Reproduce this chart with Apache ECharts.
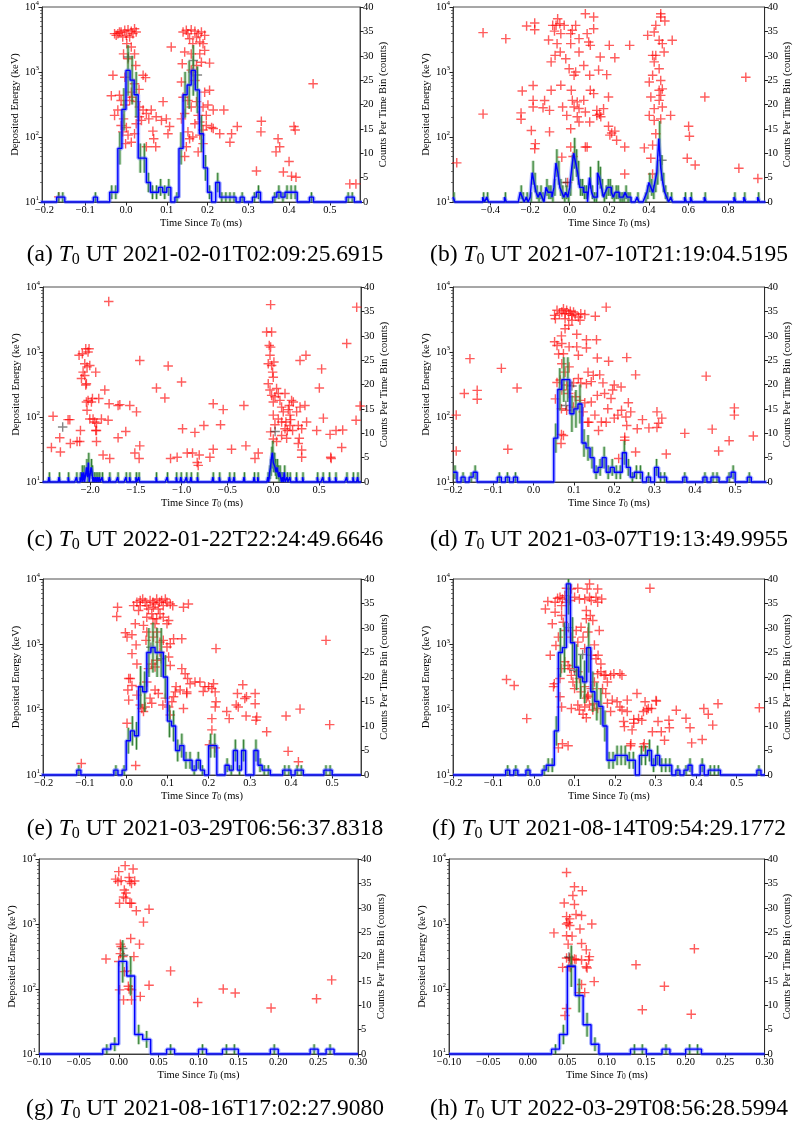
<!DOCTYPE html>
<html>
<head>
<meta charset="utf-8">
<script src="https://cdn.jsdelivr.net/npm/echarts@6.0.0/dist/echarts.min.js"></script>
<style>
  html, body { margin: 0; padding: 0; background: #fff; }
  #charts { width: 794px; height: 1126px; }
</style>
</head>
<body>
<div id="charts"></div>
<script>
// ---- data ----
const BIN = 0.01;          // histogram bin width (ms)
const COUNT_MAX = 40;

const letters = ['a', 'b', 'c', 'd', 'e', 'f', 'g', 'h'];
const utStamps = [
  '2021-02-01T02:09:25.6915', '2021-07-10T21:19:04.5195',
  '2022-01-22T22:24:49.6646', '2021-03-07T19:13:49.9955',
  '2021-03-29T06:56:37.8318', '2021-08-14T09:54:29.1772',
  '2021-08-16T17:02:27.9080', '2022-03-29T08:56:28.5994'
];

// (a)
const xRangeA = [-0.206, 0.574];
const xTicksA = [-0.2, -0.1, 0, 0.1, 0.2, 0.3, 0.4, 0.5];
const redA = [
  [-0.028, 3890], [-0.020, 3890], [-0.012, 4120], [-0.003, 4380], [0.005, 4450], [0.013, 4250],
  [0.017, 3890], [0.025, 4120], [0.001, 3660], [0.009, 3450], [0.021, 4640], [-0.008, 3450],
  [-0.016, 4120], [-0.024, 3660], [0.002, 2730], [-0.006, 1900], [0.005, 1600], [0.013, 2430],
  [0.021, 1900], [0.024, 1260], [-0.003, 830], [-0.032, 890], [0.042, 890], [0.048, 820],
  [0.032, 540], [0.021, 660], [0.013, 490], [-0.036, 430], [-0.016, 440], [-0.012, 365],
  [-0.003, 310], [0.009, 365], [0.015, 410], [0.025, 350], [0.033, 290], [0.042, 260],
  [0.050, 230], [0.062, 260], [0.074, 205], [0.091, 350], [0.099, 190], [0.087, 180],
  [0.107, 145], [0.103, 112], [0.066, 123], [0.068, 94], [0.073, 71], [0.021, 112],
  [0.001, 140], [-0.012, 150], [-0.008, 120], [0.005, 107], [-0.006, 190], [0.033, 205],
  [-0.001, 79], [0.013, 83], [0.050, 71], [-0.028, 215], [-0.020, 260], [0.025, 160],
  [0.038, 180], [0.056, 190],
  [0.140, 4120], [0.148, 4380], [0.152, 3890], [0.160, 4450], [0.169, 4250], [0.177, 3890],
  [0.185, 4120], [0.193, 3660], [0.156, 3250], [0.173, 3450], [0.181, 2900], [0.164, 2730],
  [0.189, 2730], [0.111, 2430], [0.144, 2030], [0.160, 1900], [0.181, 1900], [0.193, 2150],
  [0.205, 1370], [0.185, 1410], [0.138, 1340], [0.173, 1260], [0.160, 1070], [0.136, 700],
  [0.164, 1000], [0.169, 740], [0.205, 525], [0.193, 490], [0.140, 410], [0.152, 365],
  [0.160, 290], [0.173, 350], [0.189, 290], [0.201, 310], [0.214, 260], [0.240, 260],
  [0.144, 230], [0.177, 215], [0.197, 215], [0.136, 190], [0.169, 160], [0.181, 170],
  [0.197, 150], [0.210, 140], [0.152, 120], [0.164, 100], [0.181, 107], [0.148, 71],
  [0.189, 79], [0.156, 94], [0.144, 50], [0.177, 59], [0.189, 128], [0.214, 135],
  [0.230, 112], [0.255, 83], [0.259, 112], [0.273, 145], [0.332, 175], [0.331, 120],
  [0.320, 30], [0.373, 94], [0.377, 71], [0.368, 59], [0.400, 42], [0.386, 29],
  [0.412, 145], [0.415, 128], [0.406, 25], [0.417, 24], [0.459, 660], [0.549, 19],
  [0.564, 19], [-0.165, 12]
];
const blackA = [[0.006, 1700], [0.165, 1500], [0.175, 900]];
const histA = [
  [-0.17, 1], [-0.16, 1], [-0.08, 1], [-0.04, 2], [-0.03, 2], [-0.02, 11], [-0.01, 19],
  [0.00, 27], [0.01, 25], [0.02, 22], [0.03, 9], [0.04, 9], [0.05, 4], [0.06, 2], [0.07, 2],
  [0.08, 3], [0.09, 2], [0.10, 3], [0.12, 1], [0.13, 11], [0.14, 22], [0.15, 24], [0.16, 27],
  [0.17, 23], [0.18, 14], [0.19, 7], [0.20, 2], [0.22, 4], [0.23, 1], [0.24, 1], [0.25, 1],
  [0.26, 1], [0.28, 1], [0.31, 1], [0.32, 2], [0.36, 1], [0.37, 2], [0.38, 1], [0.39, 2],
  [0.40, 2], [0.41, 2], [0.45, 1], [0.54, 1], [0.55, 1]
];

// (b)
const xRangeB = [-0.59, 0.985];
const xTicksB = [-0.4, -0.2, 0, 0.2, 0.4, 0.6, 0.8];
const redB = [
  [-0.571, 40], [-0.438, 4030], [-0.323, 3260], [-0.438, 225], [-0.240, 510], [-0.218, 5100],
  [-0.177, 5680], [-0.177, 4480], [-0.185, 620], [-0.185, 366], [-0.185, 290], [-0.246, 235],
  [-0.246, 188], [-0.194, 126], [-0.177, 66], [-0.174, 79], [-0.107, 3100], [-0.127, 365],
  [-0.135, 282], [-0.102, 257], [-0.094, 525], [-0.102, 120], [-0.069, 5220], [-0.086, 5220],
  [-0.061, 6610], [-0.050, 5540], [-0.077, 4260], [-0.045, 3890], [-0.028, 5220], [-0.064, 2730],
  [-0.074, 1800], [-0.048, 2030], [-0.094, 1430], [-0.020, 1600], [-0.003, 1120], [0.022, 890],
  [0.030, 1000], [-0.045, 624], [0.008, 525], [0.013, 366], [0.038, 347], [0.022, 290],
  [-0.036, 290], [-0.015, 215], [0.038, 205], [0.047, 170], [0.005, 134], [0.047, 275],
  [0.005, 3890], [0.013, 4380], [0.030, 5220], [0.047, 3260], [0.005, 2730], [0.047, 2030],
  [0.079, 7890], [0.121, 7010], [0.121, 4640], [0.088, 3890], [0.096, 2900], [0.104, 2570],
  [0.071, 1260], [0.101, 890], [0.146, 1070], [0.154, 1700], [0.187, 910], [0.200, 2570],
  [0.228, 1660], [0.303, 2570], [0.104, 525], [0.121, 465], [0.137, 257], [0.196, 412],
  [0.171, 273], [0.071, 366], [0.079, 243], [0.101, 170], [0.137, 215], [0.157, 205],
  [0.151, 224], [0.196, 146], [0.203, 107], [0.212, 115], [0.228, 123], [0.237, 89],
  [0.278, 70], [0.278, 27], [0.079, 70], [0.088, 70], [0.005, 70], [-0.040, 49],
  [0.017, 50], [-0.011, 20],
  [0.460, 7890], [0.460, 7010], [0.481, 6100], [0.435, 5220], [0.427, 4120], [0.394, 3660],
  [0.452, 3070], [0.468, 2730], [0.518, 3070], [0.419, 1800], [0.427, 1430], [0.452, 1120],
  [0.477, 2030], [0.402, 700], [0.419, 890], [0.460, 740], [0.468, 550], [0.460, 437],
  [0.452, 366], [0.468, 290], [0.410, 412], [0.427, 273], [0.402, 215], [0.427, 180],
  [0.460, 190], [0.510, 215], [0.377, 68], [0.419, 75], [0.435, 112], [0.410, 47],
  [0.419, 27], [0.435, 1800], [0.452, 525],
  [0.601, 146], [0.605, 103], [0.594, 47], [0.634, 37], [0.683, 412], [0.855, 33],
  [0.890, 830], [0.951, 23]
];
const blackB = [[0.466, 44], [-0.02, 20]];
const histB = [
  [-0.59, 1], [-0.44, 1], [-0.42, 1], [-0.33, 1], [-0.25, 2], [-0.24, 1], [-0.22, 1],
  [-0.20, 1], [-0.19, 6], [-0.18, 4], [-0.17, 2], [-0.16, 1], [-0.15, 2], [-0.14, 1],
  [-0.12, 3], [-0.11, 2], [-0.10, 2], [-0.09, 1], [-0.08, 3], [-0.07, 8], [-0.06, 6],
  [-0.05, 3], [-0.04, 2], [-0.03, 1], [-0.02, 2], [-0.01, 1], [0.00, 3], [0.01, 7],
  [0.02, 10], [0.03, 8], [0.04, 6], [0.05, 3], [0.06, 3], [0.07, 2], [0.08, 2], [0.10, 5],
  [0.11, 2], [0.12, 1], [0.13, 1], [0.14, 6], [0.15, 5], [0.16, 3], [0.17, 1], [0.18, 2],
  [0.19, 3], [0.20, 3], [0.21, 2], [0.22, 1], [0.23, 2], [0.24, 2], [0.25, 1], [0.26, 1],
  [0.27, 1], [0.28, 2], [0.29, 1], [0.30, 1], [0.34, 1], [0.38, 1], [0.39, 2], [0.40, 4],
  [0.41, 3], [0.42, 2], [0.43, 4], [0.44, 6], [0.45, 13], [0.46, 7], [0.47, 4], [0.48, 2],
  [0.49, 1], [0.51, 1], [0.58, 1], [0.61, 1], [0.68, 1], [0.83, 1], [0.88, 1], [0.95, 1]
];

// (c)
const xRangeC = [-2.515, 0.958];
const xTicksC = [-2.0, -1.5, -1.0, -0.5, 0, 0.5];
const redC = [
  [-1.797, 6000], [-2.423, 34], [-2.405, 103], [-2.332, 48], [-2.325, 29], [-2.241, 91],
  [-2.222, 91], [-2.216, 39], [-2.143, 42], [-2.114, 42], [-2.121, 890], [-2.085, 940],
  [-2.095, 390], [-2.077, 490], [-2.059, 660], [-2.048, 1120], [-2.041, 325], [-2.034, 590],
  [-2.023, 1000], [-2.012, 1120], [-2.004, 620], [-2.048, 310], [-2.059, 435], [-2.106, 62],
  [-2.041, 170], [-2.034, 127], [-2.023, 180], [-2.004, 93], [-1.986, 170], [-1.975, 192],
  [-1.968, 93], [-1.950, 84], [-1.939, 62], [-1.931, 62], [-1.931, 42], [-1.931, 80],
  [-1.939, 490], [-1.906, 192], [-1.840, 260], [-1.877, 93], [-1.859, 26], [-1.804, 89],
  [-1.793, 160], [-1.786, 23], [-1.695, 48], [-1.695, 150], [-1.676, 155], [-1.611, 60],
  [-1.567, 150], [-1.512, 28], [-1.494, 120], [-1.458, 36], [-1.465, 23], [-1.458, 740],
  [-1.276, 280], [-1.184, 196], [-1.148, 610], [-1.122, 23], [-1.050, 24], [-1.002, 345],
  [-0.991, 66], [-0.940, 28], [-0.882, 28], [-0.856, 58], [-0.831, 20], [-0.820, 18],
  [-0.809, 26], [-0.758, 74], [-0.692, 24], [-0.656, 32], [-0.656, 160], [-0.576, 76],
  [-0.547, 130], [-0.456, 32], [-0.321, 150], [-0.299, 36], [-0.200, 23], [-0.164, 28],
  [-0.073, 2030], [-0.029, 5350], [-0.044, 1260], [-0.036, 890], [-0.055, 660], [-0.018, 2030],
  [-0.029, 1190], [-0.018, 620], [-0.007, 490], [0.000, 410], [0.007, 700], [-0.055, 325],
  [-0.036, 260], [-0.018, 215], [0.000, 170], [0.018, 205], [0.036, 275], [0.055, 230],
  [0.073, 180], [0.091, 142], [0.109, 120], [0.128, 230], [0.091, 84], [0.000, 107],
  [0.055, 93], [0.018, 76], [-0.029, 59], [0.000, 46], [0.036, 42], [0.091, 52],
  [0.128, 66], [0.146, 47], [0.164, 130], [0.182, 107], [0.190, 91], [0.219, 170],
  [0.255, 120], [0.273, 74], [0.292, 142], [0.310, 66], [0.346, 150], [0.364, 84],
  [0.200, 180], [0.175, 150], [0.138, 84], [0.153, 62], [0.182, 74], [0.284, 47],
  [0.310, 31], [0.273, 39], [0.310, 24], [0.211, 62], [0.292, 740], [0.357, 890],
  [0.474, 62], [0.503, 280], [0.528, 550], [0.547, 96], [0.620, 54], [0.627, 24],
  [0.632, 23], [0.685, 62], [0.747, 34], [0.758, 63], [0.802, 1350], [0.911, 4900],
  [0.904, 89], [0.948, 148]
];
const blackC = [[-2.3, 70], [0.02, 60]];
const histC = [
  [-2.45, 1], [-2.34, 1], [-2.24, 1], [-2.15, 1], [-2.11, 1], [-2.09, 2], [-2.07, 2],
  [-2.04, 3], [-2.03, 1], [-2.02, 4], [-1.99, 3], [-1.98, 2], [-1.96, 1], [-1.94, 1],
  [-1.92, 1], [-1.90, 1], [-1.87, 1], [-1.79, 1], [-1.70, 1], [-1.61, 1], [-1.57, 1],
  [-1.50, 1], [-1.47, 1], [-1.28, 1], [-1.16, 1], [-1.06, 1], [-1.01, 1], [-0.95, 1],
  [-0.90, 1], [-0.83, 1], [-0.66, 1], [-0.59, 1], [-0.48, 1], [-0.43, 1], [-0.32, 1],
  [-0.21, 1], [-0.17, 1], [-0.06, 1], [-0.04, 2], [-0.03, 3], [-0.02, 5], [-0.01, 6],
  [0.00, 4], [0.01, 4], [0.02, 3], [0.03, 2], [0.04, 3], [0.05, 2], [0.06, 1], [0.07, 2],
  [0.08, 1], [0.10, 1], [0.12, 2], [0.15, 1], [0.18, 1], [0.25, 1], [0.32, 1], [0.48, 1],
  [0.54, 1], [0.61, 1], [0.68, 1], [0.80, 1], [0.87, 1], [0.92, 1]
];

// (d)
const xRangeD = [-0.2, 0.573];
const xTicksD = [-0.2, -0.1, 0, 0.1, 0.2, 0.3, 0.4, 0.5];
const redD = [
  [-0.192, 107], [-0.192, 30], [-0.172, 230], [-0.158, 790], [-0.140, 257], [-0.140, 187],
  [-0.080, 560], [-0.064, 32], [-0.041, 280],
  [0.052, 3660], [0.058, 4380], [0.064, 3890], [0.070, 4120], [0.074, 4640], [0.078, 3890],
  [0.082, 4380], [0.087, 3890], [0.091, 4250], [0.095, 3660], [0.099, 4120], [0.103, 3780],
  [0.111, 3450], [0.117, 3890], [0.127, 3780], [0.153, 3550], [0.054, 3250], [0.078, 3250],
  [0.095, 3080], [0.115, 3080], [0.180, 4900], [0.087, 2580], [0.078, 2280],
  [0.069, 1770], [0.107, 1870], [0.131, 1540], [0.156, 1540], [0.052, 1440], [0.058, 1260],
  [0.070, 1350], [0.088, 1200], [0.107, 1200], [0.131, 1150], [0.062, 930], [0.074, 940],
  [0.111, 890], [0.158, 810], [0.186, 720], [0.231, 820], [0.070, 660], [0.088, 590],
  [0.078, 490], [0.135, 490], [0.148, 437], [0.164, 445], [0.253, 445], [0.428, 425],
  [0.058, 340], [0.066, 370], [0.082, 310], [0.099, 335], [0.111, 390], [0.117, 335],
  [0.131, 325], [0.143, 350], [0.172, 335], [0.176, 230], [0.200, 310], [0.217, 290],
  [0.196, 260], [0.054, 190], [0.070, 260], [0.087, 230], [0.103, 205], [0.115, 180],
  [0.127, 165], [0.143, 170], [0.158, 215], [0.192, 192], [0.235, 166], [0.069, 134],
  [0.082, 127], [0.099, 142], [0.123, 120], [0.134, 83], [0.137, 83], [0.152, 107],
  [0.161, 62], [0.168, 84], [0.180, 83], [0.184, 134], [0.200, 96], [0.209, 107],
  [0.218, 127], [0.229, 100], [0.241, 120], [0.231, 74], [0.257, 66], [0.270, 91],
  [0.286, 68], [0.306, 69], [0.310, 80], [0.318, 96], [0.306, 120], [0.226, 49],
  [0.226, 44], [0.253, 29], [0.211, 23], [0.329, 27], [0.375, 56], [0.443, 65],
  [0.459, 30], [0.485, 43], [0.498, 138], [0.498, 107], [0.545, 51], [0.069, 54],
  [0.068, 39], [0.074, 52]
];
const blackD = [[0.080, 150], [0.095, 300]];
const histD = [
  [-0.20, 2], [-0.18, 1], [-0.16, 1], [-0.15, 2], [-0.09, 1], [-0.07, 1], [-0.05, 1],
  [0.05, 9], [0.06, 19], [0.07, 21], [0.08, 21], [0.09, 14], [0.10, 15], [0.11, 16],
  [0.12, 8], [0.13, 7], [0.14, 5], [0.15, 2], [0.16, 3], [0.17, 5], [0.18, 2], [0.19, 3],
  [0.20, 2], [0.21, 2], [0.22, 6], [0.23, 3], [0.24, 1], [0.25, 2], [0.26, 2], [0.28, 1],
  [0.30, 3], [0.31, 1], [0.32, 1], [0.37, 1], [0.42, 1], [0.44, 1], [0.45, 1], [0.48, 1],
  [0.49, 2], [0.53, 1]
];

// (e)
const xRangeE = [-0.202, 0.57];
const xTicksE = [-0.2, -0.1, 0, 0.1, 0.2, 0.3, 0.4, 0.5];
const redE = [
  [-0.109, 15], [0.023, 14], [0.002, 62], [-0.021, 3700], [-0.023, 2660], [-0.002, 1500],
  [0.002, 1290], [0.014, 1400], [0.022, 2060], [0.024, 980], [0.014, 720], [0.026, 500],
  [0.042, 1950], [0.006, 300], [0.010, 300], [0.014, 235], [0.004, 200], [0.006, 140],
  [0.038, 104], [0.042, 94], [0.050, 265], [0.034, 225], [0.054, 425], [0.062, 500],
  [0.070, 450], [0.074, 570], [0.048, 1150], [0.050, 1540], [0.062, 2930], [0.065, 2460],
  [0.066, 1290], [0.070, 2060], [0.074, 1540], [0.082, 1080], [0.090, 1150], [0.082, 760],
  [0.099, 910], [0.107, 1020], [0.103, 640], [0.115, 1220], [0.107, 475], [0.135, 1220],
  [0.135, 425],
  [0.018, 3910], [0.026, 4400], [0.034, 4680], [0.040, 4950], [0.046, 4400], [0.050, 3910],
  [0.058, 4680], [0.065, 4400], [0.070, 4150], [0.074, 4950], [0.081, 4400], [0.086, 4680],
  [0.090, 3910], [0.095, 4950], [0.099, 4400], [0.107, 4150], [0.113, 3910], [0.139, 3700],
  [0.151, 4150], [0.054, 3480], [0.078, 3480], [0.066, 3700], [0.034, 3910], [0.082, 2930],
  [0.090, 2600], [0.103, 2320], [0.099, 2060], [0.074, 2460], [0.030, 3290], [0.050, 2600],
  [0.143, 355], [0.149, 300], [0.155, 250], [0.167, 265], [0.179, 265], [0.187, 190],
  [0.191, 225], [0.200, 225], [0.208, 210], [0.212, 250], [0.216, 187], [0.218, 132],
  [0.216, 110], [0.147, 187], [0.131, 200], [0.121, 225], [0.115, 158], [0.111, 132],
  [0.103, 110], [0.107, 83], [0.095, 150], [0.119, 187], [0.139, 104], [0.070, 200],
  [0.078, 177], [0.089, 118], [0.062, 125], [0.058, 150], [0.046, 110], [0.034, 118],
  [0.026, 167], [0.147, 177], [0.218, 860], [0.208, 73], [0.208, 49], [0.202, 29],
  [0.216, 26], [0.244, 94], [0.250, 73], [0.270, 177], [0.272, 110], [0.267, 118],
  [0.283, 240], [0.288, 148], [0.292, 158], [0.291, 80], [0.313, 177], [0.313, 123],
  [0.317, 77], [0.315, 69], [0.341, 46], [0.388, 80], [0.393, 23], [0.418, 16],
  [0.422, 102], [0.485, 1150], [0.494, 59]
];
const blackE = [[0.060, 900], [0.085, 600]];
const histE = [
  [-0.12, 1], [-0.03, 1], [-0.01, 1], [0.00, 7], [0.01, 9], [0.02, 8], [0.03, 18], [0.04, 17],
  [0.05, 25], [0.06, 26], [0.07, 25], [0.08, 25], [0.09, 20], [0.10, 11], [0.11, 10],
  [0.12, 5], [0.13, 6], [0.14, 3], [0.15, 3], [0.16, 1], [0.17, 3], [0.18, 1], [0.20, 6],
  [0.21, 6], [0.24, 2], [0.25, 1], [0.26, 5], [0.27, 1], [0.28, 5], [0.31, 5], [0.32, 2],
  [0.33, 1], [0.34, 1], [0.38, 1], [0.39, 1], [0.41, 1], [0.42, 1], [0.48, 1], [0.49, 1]
];

// (f)
const xRangeF = [-0.2, 0.569];
const xTicksF = [-0.2, -0.1, 0, 0.1, 0.2, 0.3, 0.4, 0.5];
const redF = [
  [-0.068, 290], [-0.049, 235], [-0.018, 73], [0.060, 26], [0.070, 30], [0.084, 28],
  [0.286, 7200],
  [0.028, 3480], [0.034, 4520], [0.052, 4400], [0.058, 5080], [0.064, 5250], [0.070, 4950],
  [0.076, 5570], [0.080, 7200], [0.092, 7050], [0.108, 7200], [0.131, 7050], [0.137, 8400],
  [0.157, 7050], [0.153, 5250], [0.137, 5250], [0.125, 4950], [0.112, 4950], [0.100, 5250],
  [0.088, 4680], [0.080, 4400], [0.068, 3910], [0.157, 4400], [0.141, 4680], [0.167, 4950],
  [0.129, 3290], [0.139, 2760], [0.145, 2320], [0.129, 2460], [0.052, 3100], [0.045, 2060],
  [0.068, 2760], [0.072, 2180], [0.060, 1290], [0.054, 960], [0.040, 680], [0.076, 1630],
  [0.092, 1290], [0.104, 1630], [0.108, 1080], [0.116, 1830], [0.121, 1290], [0.133, 1540],
  [0.149, 980], [0.161, 1630], [0.158, 680], [0.153, 600], [0.165, 500], [0.177, 340],
  [0.141, 680], [0.125, 860],
  [0.048, 225], [0.050, 250], [0.064, 300], [0.068, 425], [0.076, 540], [0.084, 475],
  [0.088, 425], [0.092, 335], [0.096, 265], [0.100, 210], [0.108, 380], [0.112, 300],
  [0.116, 187], [0.125, 225], [0.129, 150], [0.133, 167], [0.141, 210], [0.149, 265],
  [0.157, 355], [0.165, 380], [0.173, 335], [0.181, 265], [0.189, 335], [0.197, 355],
  [0.212, 355], [0.217, 335], [0.177, 177], [0.169, 210], [0.149, 123], [0.157, 104],
  [0.145, 99], [0.133, 158], [0.137, 118], [0.125, 110], [0.112, 99], [0.092, 104],
  [0.108, 118], [0.121, 85], [0.129, 75], [0.064, 158], [0.068, 110], [0.181, 125],
  [0.193, 140], [0.205, 132], [0.230, 140], [0.217, 99], [0.212, 110], [0.189, 94],
  [0.230, 94], [0.246, 62], [0.254, 177], [0.242, 49], [0.223, 55], [0.221, 66],
  [0.246, 71], [0.258, 73], [0.266, 69], [0.274, 132], [0.278, 99], [0.270, 94],
  [0.282, 104], [0.290, 104], [0.301, 138], [0.302, 135], [0.292, 46], [0.272, 30],
  [0.270, 27], [0.239, 30], [0.238, 28], [0.306, 66], [0.314, 46], [0.322, 34],
  [0.333, 69], [0.334, 53], [0.351, 98], [0.375, 74], [0.385, 53], [0.389, 31],
  [0.415, 35], [0.419, 104], [0.430, 85], [0.441, 58], [0.454, 123], [0.556, 107]
];
const blackF = [[0.085, 1800], [0.100, 400], [0.120, 700]];
const histF = [
  [-0.07, 1], [-0.05, 1], [-0.02, 1], [0.02, 1], [0.03, 2], [0.04, 2], [0.05, 9], [0.06, 25],
  [0.07, 26], [0.08, 39], [0.09, 27], [0.10, 22], [0.11, 20], [0.12, 19], [0.13, 26],
  [0.14, 17], [0.15, 15], [0.16, 14], [0.17, 10], [0.18, 3], [0.19, 3], [0.20, 4], [0.21, 4],
  [0.22, 4], [0.23, 3], [0.24, 3], [0.26, 4], [0.27, 4], [0.28, 5], [0.29, 2], [0.30, 4],
  [0.31, 2], [0.32, 2], [0.33, 2], [0.35, 1], [0.37, 1], [0.38, 2], [0.41, 2], [0.43, 1],
  [0.44, 1], [0.45, 1], [0.55, 1]
];

// (g)
const xRangeG = [-0.1, 0.3];
const xTicksG = [-0.1, -0.05, 0, 0.05, 0.1, 0.15, 0.2, 0.25, 0.3];
const redG = [
  [-0.016, 290], [0.008, 7900], [0.018, 7000], [-0.004, 4900], [0.000, 6400], [-0.001, 4500],
  [0.003, 4650], [0.013, 5200], [0.014, 4500], [0.016, 4200], [0.020, 4600], [0.007, 3340],
  [0.009, 3000], [0.006, 2600], [0.009, 2500], [0.001, 2080], [0.014, 2080], [0.016, 2080],
  [0.022, 1600], [0.038, 1690], [0.031, 1070], [0.015, 600], [0.026, 490], [0.002, 490],
  [0.003, 450], [0.002, 350], [0.005, 315], [0.019, 315], [0.000, 265], [0.007, 185],
  [0.010, 190], [0.012, 110], [0.013, 100], [0.016, 97], [0.001, 97], [0.006, 68],
  [0.016, 68], [0.027, 77], [0.038, 114], [0.065, 190], [0.099, 62], [0.131, 100],
  [0.146, 87], [0.191, 51], [0.248, 71], [0.267, 138]
];
const blackG = [[0.005, 420], [0.006, 330]];
const histG = [
  [-0.02, 1], [-0.01, 2], [0.00, 19], [0.01, 16], [0.02, 4], [0.03, 3], [0.06, 1], [0.10, 1],
  [0.13, 1], [0.14, 1], [0.19, 1], [0.24, 1], [0.26, 1]
];

// (h)
const xRangeH = [-0.1, 0.3];
const xTicksH = [-0.1, -0.05, 0, 0.05, 0.1, 0.15, 0.2, 0.25, 0.3];
const redH = [
  [0.049, 6200], [0.059, 3750], [0.069, 3250], [0.057, 2750], [0.046, 2100], [0.059, 2000],
  [0.061, 1400], [0.068, 1350], [0.049, 1300], [0.053, 1200], [0.051, 1050], [0.049, 1000],
  [0.053, 950], [0.081, 1000], [0.066, 840], [0.033, 730], [0.049, 660], [0.056, 650],
  [0.068, 500], [0.051, 490], [0.074, 400], [0.078, 315], [0.077, 280], [0.049, 300],
  [0.053, 300], [0.059, 290], [0.056, 280], [0.061, 285], [0.068, 280], [0.075, 210],
  [0.074, 220], [0.044, 215], [0.054, 215], [0.052, 220], [0.084, 130], [0.068, 117],
  [0.072, 88], [0.065, 88], [0.049, 50], [0.047, 39], [0.137, 236], [0.173, 110],
  [0.145, 48], [0.211, 415], [0.207, 41]
];
const blackH = [[0.052, 310], [0.055, 230]];
const histH = [
  [0.03, 1], [0.04, 4], [0.05, 18], [0.06, 12], [0.07, 6], [0.08, 2], [0.13, 1], [0.14, 1],
  [0.17, 1], [0.20, 1], [0.21, 1]
];

// ---- layout (pixels) ----
const boxes = [
  { left: 42, top: 7, width: 318, height: 195 },
  { left: 453, top: 7, width: 318, height: 195 },
  { left: 43, top: 287, width: 318, height: 195 },
  { left: 453, top: 287, width: 316, height: 195 },
  { left: 43, top: 579, width: 318, height: 196 },
  { left: 453, top: 579, width: 317, height: 196 },
  { left: 39, top: 859, width: 319, height: 195 },
  { left: 449, top: 859, width: 317, height: 195 }
];
const captionCenters = [[200, 252], [604, 252], [200, 537], [604, 537],
                        [200, 826], [604, 826], [200, 1106], [604, 1106]];

const panels = [
  { range: xRangeA, ticks: xTicksA, red: redA, black: blackA, hist: histA, digits: 1 },
  { range: xRangeB, ticks: xTicksB, red: redB, black: blackB, hist: histB, digits: 1 },
  { range: xRangeC, ticks: xTicksC, red: redC, black: blackC, hist: histC, digits: 1 },
  { range: xRangeD, ticks: xTicksD, red: redD, black: blackD, hist: histD, digits: 1 },
  { range: xRangeE, ticks: xTicksE, red: redE, black: blackE, hist: histE, digits: 1 },
  { range: xRangeF, ticks: xTicksF, red: redF, black: blackF, hist: histF, digits: 1 },
  { range: xRangeG, ticks: xTicksG, red: redG, black: blackG, hist: histG, digits: 2 },
  { range: xRangeH, ticks: xTicksH, red: redH, black: blackH, hist: histH, digits: 2 }
];

const minorE = [2, 3, 4, 5, 6, 7, 8, 9].flatMap(m => [m * 10, m * 100, m * 1000]);
const FONT = 'Liberation Serif';
const AXIS_COLOR = '#222';
const PLUS = 'path://M4.25,0H5.75V4.25H10V5.75H5.75V10H4.25V5.75H0V4.25H4.25Z';

// full histogram over the panel range: [edge, count] pairs for a step line
function stepData(hist, range) {
  const counts = {};
  hist.forEach(([s, c]) => { counts[Math.round(s / BIN)] = c; });
  const i0 = Math.floor(range[0] / BIN + 1e-6);
  const i1 = Math.ceil(range[1] / BIN - 1e-6);
  const out = [];
  for (let i = i0; i < i1; i++) out.push([i * BIN, counts[i] || 0]);
  out.push([i1 * BIN, counts[i1 - 1] || 0]);
  return out;
}

function errData(hist) {
  return hist.map(([s, c]) => [s + BIN / 2, c, Math.sqrt(c)]);
}

function renderErr(params, api) {
  const x = api.value(0), c = api.value(1), e = api.value(2);
  const lo = api.coord([x, Math.max(c - e, 0)]);
  const hi = api.coord([x, Math.min(c + e, COUNT_MAX)]);
  const shape = { x1: lo[0], y1: lo[1], x2: hi[0], y2: hi[1] };
  return {
    type: 'group',
    children: [
      { type: 'line', shape: shape, style: { stroke: 'rgba(70,150,70,0.45)', lineWidth: 3 } },
      { type: 'line', shape: shape, style: { stroke: '#2f7d2f', lineWidth: 1 } }
    ]
  };
}

const tickFmt = d => v => (Math.abs(v) < 1e-9 ? 0 : v).toFixed(d).replace('-', '\u2212');

const option = {
  animation: false,
  backgroundColor: '#fff',
  title: [],
  grid: [],
  xAxis: [],
  yAxis: [],
  series: []
};

panels.forEach((p, i) => {
  const b = boxes[i];
  option.grid.push({
    left: b.left, top: b.top, width: b.width, height: b.height,
    show: true, borderColor: AXIS_COLOR, borderWidth: 0.8, backgroundColor: '#fff'
  });

  option.xAxis.push({
    gridIndex: i, type: 'value', min: p.range[0], max: p.range[1],
    axisLine: { show: true, onZero: false, lineStyle: { color: AXIS_COLOR, width: 0.8 } },
    axisTick: { show: true, customValues: p.ticks, length: 3.5, lineStyle: { color: AXIS_COLOR } },
    axisLabel: {
      customValues: p.ticks, formatter: tickFmt(p.digits),
      fontFamily: FONT, fontSize: 10.5, color: '#000', margin: 3
    },
    splitLine: { show: false },
    name: 'Time Since {i|T}{s|0} (ms)', nameLocation: 'middle', nameGap: 15,
    nameTextStyle: {
      fontFamily: FONT, fontSize: 10.5, color: '#000',
      rich: { i: { fontFamily: FONT, fontStyle: 'italic', fontSize: 10.5 },
              s: { fontFamily: FONT, fontSize: 7.5, verticalAlign: 'bottom', padding: [4, 0, 0, 0] } }
    }
  });

  // energy axis (log), minor ticks axis, counts axis
  option.yAxis.push({
    gridIndex: i, type: 'log', logBase: 10, min: 10, max: 10000, position: 'left',
    axisLine: { show: true, onZero: false, lineStyle: { color: AXIS_COLOR, width: 0.8 } },
    axisTick: { show: true, length: 3.5, lineStyle: { color: AXIS_COLOR } },
    axisLabel: {
      fontFamily: FONT, fontSize: 10.5, color: '#000', margin: 3,
      formatter: v => '{b|10}{e|' + Math.round(Math.log10(v)) + '}',
      rich: { b: { fontFamily: FONT, fontSize: 10.5, color: '#000' },
              e: { fontFamily: FONT, fontSize: 7, color: '#000', verticalAlign: 'top', padding: [0, 0, 7, 0] } }
    },
    splitLine: { show: false },
    name: 'Deposited Energy (keV)', nameLocation: 'middle', nameGap: 20, nameRotate: 90,
    nameTextStyle: { fontFamily: FONT, fontSize: 10.5, color: '#000' }
  });
  option.yAxis.push({
    gridIndex: i, type: 'log', logBase: 10, min: 10, max: 10000, position: 'left',
    axisLine: { show: false, onZero: false },
    axisTick: { show: true, customValues: minorE, length: 2, lineStyle: { color: AXIS_COLOR, width: 0.6 } },
    axisLabel: { show: false }, splitLine: { show: false }
  });
  option.yAxis.push({
    gridIndex: i, type: 'value', min: 0, max: COUNT_MAX, interval: 5, position: 'right',
    axisLine: { show: true, onZero: false, lineStyle: { color: AXIS_COLOR, width: 0.8 } },
    axisTick: { show: true, length: 3.5, lineStyle: { color: AXIS_COLOR } },
    axisLabel: { fontFamily: FONT, fontSize: 10.5, color: '#000', margin: 3 },
    splitLine: { show: false },
    name: 'Counts Per Time Bin (counts)', nameLocation: 'middle', nameGap: 16, nameRotate: 90,
    nameTextStyle: { fontFamily: FONT, fontSize: 10.5, color: '#000' }
  });

  const yE = 3 * i, yC = 3 * i + 2;
  const steps = stepData(p.hist, p.range);
  option.series.push(
    { type: 'scatter', xAxisIndex: i, yAxisIndex: yE, data: p.red, symbol: PLUS, symbolSize: 9.5,
      itemStyle: { color: 'rgba(255,0,0,0.8)' }, z: 2, silent: true },
    { type: 'scatter', xAxisIndex: i, yAxisIndex: yE, data: p.black, symbol: PLUS, symbolSize: 9.5,
      itemStyle: { color: 'rgba(0,0,0,0.6)' }, z: 2, silent: true },
    { type: 'custom', xAxisIndex: i, yAxisIndex: yC, data: errData(p.hist), renderItem: renderErr,
      clip: true, z: 3, silent: true },
    { type: 'line', xAxisIndex: i, yAxisIndex: yC, data: steps, step: 'end', symbol: 'none',
      lineStyle: { color: 'rgba(80,100,255,0.45)', width: 4 }, clip: true, z: 4, silent: true },
    { type: 'line', xAxisIndex: i, yAxisIndex: yC, data: steps, step: 'end', symbol: 'none',
      lineStyle: { color: '#0000ff', width: 1.4 }, clip: true, z: 5, silent: true }
  );

  const [cx, cy] = captionCenters[i];
  option.title.push({
    text: '{n|(' + letters[i] + ') }{i|T}{s|0}{n| UT ' + utStamps[i] + '}',
    left: cx, top: cy - 16, textAlign: 'center',
    textStyle: {
      fontWeight: 'normal',
      rich: {
        n: { fontFamily: FONT, fontSize: 23.5, fontWeight: 'normal', color: '#000', lineHeight: 27 },
        i: { fontFamily: FONT, fontSize: 23.5, fontWeight: 'normal', fontStyle: 'italic', color: '#000', lineHeight: 27 },
        s: { fontFamily: FONT, fontSize: 16, fontWeight: 'normal', color: '#000', lineHeight: 27,
             verticalAlign: 'bottom', padding: [8, 0, 0, 0] }
      }
    }
  });
});

const myChart = echarts.init(document.getElementById('charts'), null, { renderer: 'canvas' });
myChart.setOption(option);
</script>
</body>
</html>
